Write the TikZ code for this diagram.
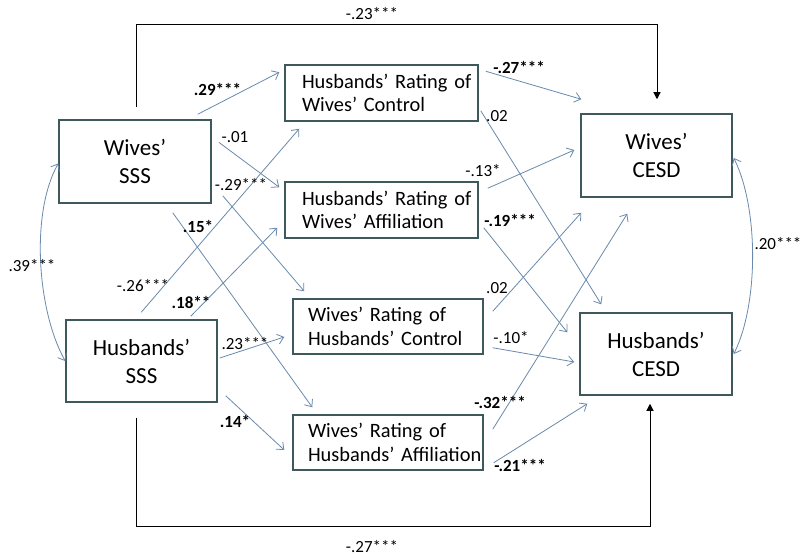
\documentclass[tikz,border=0pt]{standalone}
\usepackage{fontspec}
\setmainfont{Carlito}
\usetikzlibrary{arrows.meta}
\definecolor{boxline}{RGB}{62,88,92}
\definecolor{arrowc}{RGB}{105,138,172}
\begin{document}
\begin{tikzpicture}[x=1pt,y=-1pt,
  sbox/.style={draw=boxline, line width=1.5pt, fill=white, inner sep=0pt, align=center, font=\fontsize{23}{28}\selectfont},
  mbox/.style={draw=boxline, line width=1.5pt, fill=white, inner ysep=0pt, align=left, font=\fontsize{20.4}{23.5}\selectfont},
  lab/.style={inner sep=0pt, font=\fontsize{17}{20}\selectfont},
  blab/.style={inner sep=0pt, font=\fontsize{17}{20}\selectfont\bfseries},
  arr/.style={draw=arrowc, line width=0.8pt, -{Straight Barb[length=6pt,width=10pt]}},
  cov/.style={draw=arrowc, line width=0.8pt, {Straight Barb[length=6pt,width=10pt]}-{Straight Barb[length=6pt,width=10pt]}},
  blk/.style={draw=black, line width=1pt, -{Triangle[length=7pt,width=7pt]}}]
\fill[white] (0,0) rectangle (804,559);
\useasboundingbox (0,0) rectangle (804,559);

% boxes
\node[sbox, minimum width=152pt, minimum height=83pt] (ws) at (135,161.5) {Wives’\\SSS};
\node[sbox, minimum width=151pt, minimum height=82pt] (hs) at (141.5,361) {Husbands’\\SSS};
\node[sbox, minimum width=151pt, minimum height=83pt] (wc) at (656.5,155.5) {Wives’\\CESD};
\node[sbox, minimum width=152pt, minimum height=82pt] (hc) at (656,354) {Husbands’\\CESD};
\node[mbox, minimum height=56pt, inner xsep=17pt, text width=159pt] (m1) at (381.5,93) {\mbox{Husbands’ Rating of}\\\mbox{Wives’ Control}};
\node[mbox, minimum height=56pt, inner xsep=17pt, text width=159pt] (m2) at (381.5,210) {\mbox{Husbands’ Rating of}\\\mbox{Wives’ Affiliation}};
\node[mbox, minimum height=55pt, inner xsep=15pt, text width=160pt] (m3) at (388,326.5) {\mbox{Wives’ Rating of}\\\mbox{Husbands’ Control}};
\node[mbox, minimum height=55pt, inner xsep=15pt, text width=160pt] (m4) at (388,442.5) {\mbox{Wives’ Rating of}\\\mbox{Husbands’ Affiliation}};

% paths from SSS to ratings
\draw[arr] ([shift={(-14,-5)}]ws.north east) -- ([shift={(-5,8)}]m1.north west);
\draw[arr] ([shift={(7,23)}]ws.north east) -- ([shift={(-5,6)}]m2.north west);
\draw[arr] ([shift={(11,-8)}]ws.south east) -- ([shift={(12,-7)}]m3.north west);
\draw[arr] ([shift={(-39,9)}]ws.south east) -- ([shift={(20,-7)}]m4.north west);
\draw[arr] ([shift={(76,-7)}]hs.north west) -- ([shift={(15,7)}]m1.south west);
\draw[arr] ([shift={(-27,-3)}]hs.north east) -- ([shift={(-7,-11)}]m2.south west);
\draw[arr] ([shift={(2,-3)}]hs.east) -- ([shift={(-8,10.5)}]m3.west);
\draw[arr] ([shift={(8,-7)}]hs.south east) -- ([shift={(-8,7.5)}]m4.west);

% paths from ratings to CESD
\draw[arr] ([shift={(7,7)}]m1.north east) -- ([shift={(1,-14)}]wc.north west);
\draw[arr] ([shift={(2,-11)}]m1.south east) -- ([shift={(22,-8)}]hc.north west);
\draw[arr] ([shift={(9,7)}]m2.north east) -- ([shift={(-6,-5.5)}]wc.west);
\draw[arr] ([shift={(5,-11)}]m2.south east) -- ([shift={(-12,20)}]hc.north west);
\draw[arr] ([shift={(9,13)}]m3.north east) -- ([shift={(1,15)}]wc.south west);
\draw[arr] ([shift={(9,-7)}]m3.south east) -- ([shift={(-5,8)}]hc.west);
\draw[arr] ([shift={(9,15)}]m4.north east) -- ([shift={(47,16)}]wc.south west);
\draw[arr] ([shift={(10,-8)}]m4.south east) -- ([shift={(8,8)}]hc.south west);

% covariances
\draw[cov] ([shift={(0,2)}]ws.west) .. controls +(-28,50) and +(-28,-50) .. (hs.west);
\draw[cov] ([shift={(1,2.5)}]wc.east) .. controls +(25,50) and +(25,-50) .. ([shift={(1,0)}]hc.east);

% direct paths
\draw[blk] ([shift={(1,-12)}]ws.north) -- ++(0,-83) -| ([shift={(0.5,-14)}]wc.north);
\draw[blk] ([shift={(-5.5,15)}]hs.south) -- ++(0,109) -| ([shift={(-6,8)}]hc.south);

% labels
\node[blab] (l1) at (217.5,89) {.29***};
\node[lab] (l2) at (235,137) {-.01};
\node[lab] (l3) at (241,185) {-.29***};
\node[blab] (l4) at (198,226) {.15*};
\node[lab] (l5) at (32,266) {.39***};
\node[lab] (l6) at (143,286) {-.26***};
\node[blab] (l7) at (191,302) {.18**};
\node[lab] (l8) at (245,344) {.23***};
\node[blab] (l9) at (235,421) {.14*};
\node[blab] (l10) at (519,67) {-.27***};
\node[lab] (l11) at (497,116) {.02};
\node[lab] (l12) at (483,171) {-.13*};
\node[blab] (l13) at (510,220) {-.19***};
\node[lab] (l14) at (497,288) {.02};
\node[lab] (l15) at (511,338) {-.10*};
\node[blab] (l16) at (500,402) {-.32***};
\node[blab] (l17) at (520,465) {-.21***};
\node[lab] (l18) at (778,244) {.20***};
\node[lab] (l19) at (372,14) {-.23***};
\node[lab] (l20) at (372,547) {-.27***};
\end{tikzpicture}
\end{document}
